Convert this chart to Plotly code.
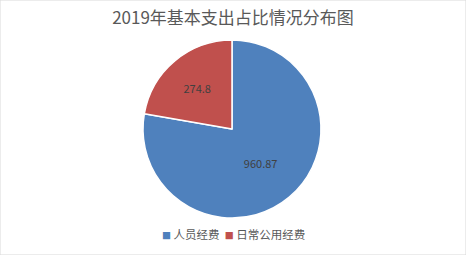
import plotly.graph_objects as go

labels = ["人员经费", "日常公用经费"]
values = [960.87, 274.8]
colors = ["#4F81BD", "#C0504D"]

W, H = 466, 255
fig = go.Figure(go.Pie(
    labels=labels, values=values, sort=False, direction="clockwise", rotation=0,
    marker=dict(colors=colors, line=dict(color="white", width=1.5)),
    textinfo="value", textposition="inside", insidetextorientation="horizontal",
    textfont=dict(color="#404040", size=11, family="Noto Sans CJK SC"),
    domain=dict(x=[143/W, 321/W], y=[1-218/H, 1-40/H]),
    hoverinfo="label+value", showlegend=False,
))
legend_text = "  ".join(
    f"<span style='color:{c};font-size:9px'>■</span> {l}" for l, c in zip(labels, colors)
)
fig.update_layout(
    width=W, height=H, margin=dict(l=0, r=0, t=0, b=0),
    paper_bgcolor="white",
    font=dict(family="Noto Sans CJK SC", color="#595959"),
    title=dict(text="2019年基本支出占比情况分布图", x=0.5, xanchor="center", y=1-18/H, yanchor="middle",
               font=dict(size=17, color="#595959")),
    annotations=[dict(text=legend_text, xref="paper", yref="paper", x=233/W, y=1-234/H,
                      xanchor="center", yanchor="middle", showarrow=False,
                      font=dict(size=11.5, color="#595959"))],
    shapes=[dict(type="rect", xref="paper", yref="paper", x0=0, y0=0, x1=1, y1=1,
                 line=dict(color="#D9D9D9", width=1))],
)
fig.write_html("out.html")
